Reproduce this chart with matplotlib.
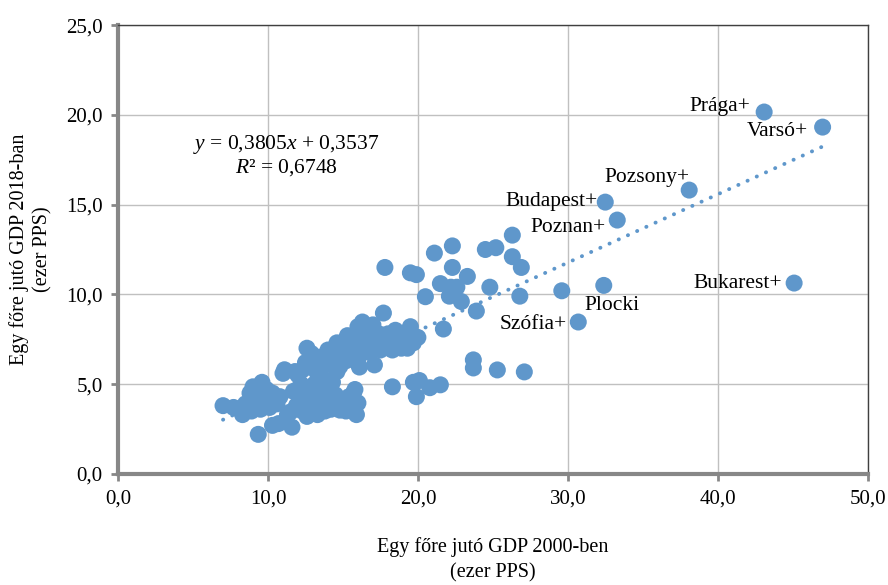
import matplotlib.pyplot as plt
import numpy as np

plt.rcParams['font.family'] = ['Liberation Serif', 'DejaVu Serif']
plt.rcParams['mathtext.fontset'] = 'custom'
plt.rcParams['mathtext.rm'] = 'Liberation Serif'
plt.rcParams['mathtext.it'] = 'Liberation Serif:italic'

# GDP per capita 2000 (x) and 2018 (y), thousand PPS
gdp_2000 = [
    7.0, 7.7, 8.1, 8.3, 8.5, 8.8, 8.9, 9.0, 9.1, 9.3, 9.4, 9.5, 9.6, 9.7, 9.8, 9.9,
    10.0, 10.1, 10.3, 10.4, 10.6, 10.8, 9.35, 10.3, 10.7, 11.6, 11.5, 11.7, 11.0, 11.1,
    11.3, 11.9,
    12.3, 12.5, 12.7, 12.9, 13.0, 13.2, 13.3, 13.5, 13.6, 13.8, 13.9, 14.0, 14.2, 14.3,
    14.5, 14.7, 14.8, 15.0, 15.2, 15.4, 15.6, 15.8, 15.9, 16.0, 15.7, 14.1, 12.8, 13.1,
    12.4, 12.6,
    12.0, 12.3, 12.6, 12.5, 12.8, 12.9, 13.0, 13.3, 13.5, 13.7, 14.0, 14.2, 14.6, 14.4,
    14.8, 15.0, 15.2, 15.4, 15.5, 15.6, 15.8, 16.0, 16.1, 16.2, 16.3, 16.5, 16.6, 16.8,
    17.0, 17.1, 17.2, 17.4, 17.5, 17.7, 17.9, 18.1, 18.3, 18.5, 18.7, 18.9, 19.1, 19.3,
    19.5, 19.7, 20.0, 16.0, 15.3, 14.9, 13.9, 16.4, 17.6, 18.0, 16.9, 15.9, 14.6, 13.4,
    12.2, 11.8,
    17.8, 19.5, 19.9, 20.5, 21.1, 21.7, 22.3, 21.5, 22.2, 22.1, 22.9, 23.3, 22.3, 22.6,
    23.9, 24.5, 25.2, 24.8, 26.3, 26.3, 26.9, 26.8, 29.6, 32.4,
    18.3, 19.9, 20.1, 19.7, 21.5, 20.8, 23.7, 23.7, 25.3, 27.1,
    43.1, 47.0, 38.1, 32.5, 33.3, 45.1, 30.7,
]
gdp_2018 = [
    3.8, 3.7, 3.6, 3.3, 3.9, 4.5, 3.5, 4.85, 4.1, 3.9, 4.6, 3.6, 5.1, 4.3, 3.9, 4.7,
    4.2, 3.7, 4.5, 4.0, 3.9, 4.3, 2.2, 2.7, 2.8, 2.6, 3.45, 4.6, 5.6, 5.8,
    3.3, 3.8,
    3.5, 3.9, 3.4, 4.2, 3.7, 4.5, 3.3, 3.9, 4.8, 3.5, 5.2, 4.2, 3.6, 5.1,
    4.4, 3.8, 3.55, 4.0, 3.5, 4.3, 3.7, 4.7, 3.3, 3.95, 4.5, 4.7, 4.0, 5.0,
    4.6, 3.2,
    5.5, 5.8, 7.0, 6.2, 6.3, 6.7, 5.9, 5.6, 6.5, 6.0, 6.9, 6.2, 7.3, 6.6,
    6.0, 6.8, 6.3, 7.0, 7.46, 6.6, 7.7, 8.2, 5.95, 7.1, 8.46, 7.5, 6.8, 7.5,
    8.3, 6.07, 7.2, 7.8, 6.9, 8.96, 7.4, 7.0, 6.9, 8.0, 7.3, 7.0, 7.6, 7.0,
    8.2, 7.3, 7.6, 6.4, 7.7, 6.4, 6.3, 7.9, 7.5, 7.8, 6.9, 7.2, 5.7, 5.3,
    5.0, 5.7,
    11.5, 11.2, 11.1, 9.87, 12.3, 8.07, 12.7, 10.6, 10.4, 9.9, 9.6, 11.0, 11.5, 10.4,
    9.07, 12.5, 12.6, 10.4, 13.3, 12.1, 11.5, 9.9, 10.2, 10.5,
    4.85, 4.3, 5.2, 5.1, 4.96, 4.8, 6.35, 5.9, 5.79, 5.68,
    20.16, 19.32, 15.81, 15.14, 14.14, 10.63, 8.46,
]

# labelled regions: text and where the text sits
labels = ['Prága+', 'Varsó+', 'Pozsony+', 'Budapest+', 'Poznan+', 'Bukarest+', 'Szófia+', 'Plocki']
label_x = [42.2, 46.0, 38.1, 32.0, 32.5, 44.3, 29.9, 31.1]
label_y = [20.45, 19.1, 16.5, 15.2, 13.75, 10.6, 8.3, 9.4]
label_ha = ['right', 'right', 'right', 'right', 'right', 'right', 'right', 'left']

slope, intercept = 0.3805, 0.3537
fit_x = [7.0, 47.0]

blue = '#5f97cb'
spine_gray = '#878787'

fig = plt.figure(figsize=(8.88, 5.85), dpi=100)
ax = fig.add_axes([0.133, 0.19, 0.844, 0.767])

ax.scatter(gdp_2000, gdp_2018, s=150, color=blue, edgecolors='none', zorder=3)
fx = np.array(fit_x)
ax.plot(fx, slope * fx + intercept, linestyle=(0, (0.05, 2.55)), color=blue,
        linewidth=2.8, zorder=2, dash_capstyle='round')

for t, lx, ly, ha in zip(labels, label_x, label_y, label_ha):
    ax.text(lx, ly, t, ha=ha, va='center', fontsize=15.5, zorder=4)

ax.text(11.2, 18.35, r'$y$ = 0,3805$x$ + 0,3537', ha='center', va='center', fontsize=15.5)
ax.text(11.2, 17.05, r'$R$² = 0,6748', ha='center', va='center', fontsize=15.5)

ax.set_xlim(0, 50)
ax.set_ylim(0, 25)
ax.set_xticks(np.arange(0, 51, 10))
ax.set_yticks(np.arange(0, 26, 5))
ax.set_xticklabels([f'{v:.1f}'.replace('.', ',') for v in np.arange(0, 51, 10)])
ax.set_yticklabels([f'{v:.1f}'.replace('.', ',') for v in np.arange(0, 26, 5)])
ax.grid(True, color='#c0c0c0', linewidth=1.0, zorder=0)
ax.set_axisbelow(True)

for side in ['left', 'bottom']:
    ax.spines[side].set_color(spine_gray)
    ax.spines[side].set_linewidth(3)
for side in ['top', 'right']:
    ax.spines[side].set_color('#404040')
    ax.spines[side].set_linewidth(1)
ax.tick_params(axis='both', direction='out', length=5, width=2, color=spine_gray,
               labelsize=15, pad=6)

ax.set_xlabel('Egy főre jutó GDP 2000-ben\n(ezer PPS)', fontsize=14.5, labelpad=21,
              linespacing=1.4)
ax.set_ylabel('Egy főre jutó GDP 2018-ban\n(ezer PPS)', fontsize=14.5, labelpad=10,
              linespacing=1.3)

fig.savefig('out.png', dpi=100)
